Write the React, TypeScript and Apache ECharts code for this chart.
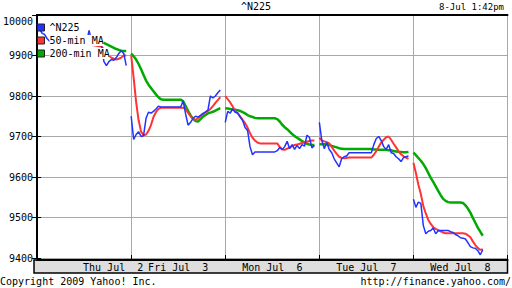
import React, { useEffect, useRef } from "react";
import * as echarts from "echarts";

const FONT = '"DejaVu Sans Mono", monospace';
const BLUE = "#2233ff";
const RED = "#ff3333";
const GREEN = "#00aa00";

// minutes per day slot on the axis, sampling step (minutes from 9:00)
const DAY_MIN = 380;
const STEP = 10;
const DAY_LABELS = ["Thu Jul  2", "Fri Jul  3", "Mon Jul  6", "Tue Jul  7", "Wed Jul  8"];
const Y_MIN = 9400;
const Y_MAX = 10000;
const Y_STEP = 100;

// ^N225, sampled every 10 minutes from 9:00
const n225Thu = [9978, 9965, 9955, 9952, 9942, 9936, 9934, 9938, 9932, 9935, 9930, 9936, 9933, 9933, 9933, 9933, 9933, 9933, 9933, 9933, 9933, 9962, 9935, 9930, 9928, 9932, 9925, 9885, 9875, 9885, 9890, 9888, 9895, 9905, 9912, 9905, 9875];
const n225Fri = [9750, 9693, 9705, 9712, 9700, 9702, 9745, 9760, 9758, 9762, 9768, 9775, 9773, 9773, 9773, 9773, 9773, 9773, 9773, 9773, 9773, 9788, 9755, 9728, 9735, 9745, 9750, 9748, 9752, 9757, 9760, 9765, 9800, 9795, 9800, 9808, 9815];
const n225Mon = [9735, 9762, 9758, 9768, 9760, 9758, 9748, 9740, 9722, 9715, 9675, 9655, 9662, 9662, 9662, 9662, 9662, 9662, 9662, 9662, 9662, 9665, 9673, 9668, 9675, 9688, 9670, 9680, 9668, 9678, 9670, 9680, 9676, 9703, 9698, 9672, 9678];
const n225Tue = [9735, 9690, 9670, 9685, 9668, 9660, 9645, 9635, 9625, 9645, 9650, 9652, 9660, 9660, 9660, 9660, 9660, 9660, 9660, 9660, 9660, 9660, 9680, 9695, 9700, 9690, 9675, 9668, 9680, 9660, 9658, 9650, 9645, 9638, 9648, 9650, 9652];
const n225Wed = [9545, 9525, 9538, 9535, 9480, 9460, 9466, 9468, 9474, 9460, 9467, 9468, 9468, 9468, 9468, 9465, 9463, 9458, 9455, 9450, 9449, 9447, 9438, 9428, 9425, 9424, 9418, 9408, 9420];

// 50-min moving average
const ma50Thu = [null, null, null, null, null, null, 9940, 9937, 9935, 9933, 9931, 9930, 9929, 9928, 9928, 9928, 9928, 9928, 9928, 9928, 9928, 9927, 9926, 9925, 9924, 9923, 9922, 9915, 9905, 9898, 9895, 9892, 9890, 9892, 9895, 9900, 9900];
const ma50Fri = [9900, 9845, 9785, 9740, 9712, 9703, 9705, 9714, 9728, 9748, 9760, 9768, 9771, 9771, 9771, 9771, 9771, 9771, 9771, 9771, 9771, 9771, 9768, 9758, 9750, 9744, 9741, 9745, 9750, 9755, 9760, 9763, 9768, 9775, 9783, 9790, 9797];
const ma50Mon = [9800, 9792, 9784, 9774, 9763, 9758, 9750, 9741, 9733, 9722, 9708, 9697, 9690, 9685, 9683, 9683, 9683, 9683, 9683, 9683, 9683, 9683, 9674, 9668, 9667, 9670, 9673, 9676, 9679, 9680, 9682, 9684, 9685, 9687, 9689, 9690, 9690];
const ma50Tue = [9697, 9690, 9688, 9686, 9683, 9674, 9665, 9657, 9650, 9647, 9646, 9647, 9648, 9648, 9648, 9648, 9648, 9648, 9648, 9648, 9648, 9648, 9655, 9664, 9675, 9685, 9692, 9698, 9700, 9692, 9682, 9673, 9664, 9656, 9651, 9648, 9645];
const ma50Wed = [9635, 9610, 9581, 9558, 9528, 9510, 9494, 9484, 9476, 9472, 9469, 9466, 9463, 9461, 9461, 9461, 9461, 9461, 9461, 9461, 9461, 9460, 9456, 9451, 9441, 9432, 9425, 9420, 9422];

// 200-min moving average
const ma200Thu = [null, null, null, null, null, null, 9945, 9944, 9943, 9942, 9941, 9940, 9939, 9938, 9938, 9938, 9938, 9938, 9938, 9938, 9938, 9937, 9936, 9935, 9934, 9933, 9932, 9931, 9928, 9925, 9922, 9919, 9916, 9914, 9912, 9911, 9911];
const ma200Fri = [9905, 9898, 9890, 9879, 9866, 9852, 9838, 9828, 9820, 9812, 9804, 9797, 9792, 9791, 9791, 9791, 9791, 9791, 9791, 9791, 9791, 9787, 9775, 9763, 9752, 9744, 9738, 9737, 9743, 9749, 9753, 9757, 9759, 9761, 9764, 9767, 9770];
const ma200Mon = [9770, 9769, 9768, 9767, 9766, 9765, 9763, 9760, 9757, 9753, 9750, 9748, 9746, 9745, 9745, 9745, 9745, 9745, 9745, 9745, 9745, 9743, 9737, 9729, 9723, 9718, 9712, 9706, 9701, 9697, 9693, 9689, 9685, 9682, 9680, 9679, 9679];
const ma200Tue = [9681, 9681, 9681, 9680, 9679, 9677, 9675, 9673, 9671, 9670, 9669, 9669, 9669, 9669, 9669, 9669, 9669, 9669, 9669, 9669, 9669, 9669, 9668, 9668, 9667, 9667, 9667, 9667, 9666, 9666, 9664, 9663, 9662, 9662, 9661, 9661, 9662];
const ma200Wed = [9660, 9654, 9647, 9640, 9632, 9622, 9610, 9598, 9588, 9577, 9566, 9555, 9546, 9541, 9538, 9537, 9537, 9537, 9537, 9537, 9536, 9530, 9522, 9512, 9499, 9487, 9475, 9465, 9455];

function build(days: (number | null)[][]) {
  const out: any[] = [];
  days.forEach((vals, d) => {
    vals.forEach((v, i) => out.push([d * DAY_MIN + i * STEP, v == null ? "-" : v]));
    out.push([d * DAY_MIN + DAY_MIN - 5, "-"]);
  });
  return out;
}

export default function App() {
  const ref = useRef<HTMLDivElement>(null);
  useEffect(() => {
    if (!ref.current) return;
    const chart = echarts.init(ref.current, null, { renderer: "svg" });
    const txt = { fontFamily: FONT, fontSize: 10, color: "#000", fontWeight: "normal" as const };
    const option: any = {
      animation: false,
      backgroundColor: "#fff",
      title: [
        { text: "^N225", left: "center", top: 0, padding: 0, textStyle: { ...txt, lineHeight: 12 } },
        { text: "8-Jul 1:42pm", right: 8, top: 1, padding: 0, textStyle: { ...txt, fontSize: 9, lineHeight: 12 } },
        { text: "Copyright 2009 Yahoo! Inc.", left: 0, top: 275, padding: 0, textStyle: { ...txt, lineHeight: 12 } },
        { text: "http://finance.yahoo.com/", right: 1, top: 275, padding: 0, textStyle: { ...txt, lineHeight: 12 } },
      ],
      legend: {
        data: ["^N225", "50-min MA", "200-min MA"],
        orient: "vertical",
        left: 37,
        top: 22,
        padding: 0,
        itemWidth: 7,
        itemHeight: 7,
        itemGap: 2,
        icon: "rect",
        selectedMode: false,
        itemStyle: { borderColor: "#222", borderWidth: 1 },
        textStyle: { ...txt, backgroundColor: "#fff", lineHeight: 11 },
      },
      grid: { left: 34, right: 4.5, top: 15, bottom: 30 },
      xAxis: [
        {
          type: "value",
          min: 0,
          max: DAY_MIN * 5,
          interval: DAY_MIN,
          position: "bottom",
          offset: 2,
          axisLine: { show: true, lineStyle: { color: "#000", width: 2 } },
          axisTick: { show: true, inside: true, length: 5, lineStyle: { color: "#000", width: 1 } },
          axisLabel: { show: false },
          splitLine: { show: true, lineStyle: { color: "#a8a8a8", width: 1 } },
        },
        {
          type: "value",
          min: 0,
          max: DAY_MIN * 5,
          interval: DAY_MIN / 2,
          position: "bottom",
          offset: 2,
          axisLine: { show: false },
          axisTick: { show: false },
          splitLine: { show: false },
          axisLabel: {
            show: true,
            interval: 0,
            margin: 1,
            ...txt,
            lineHeight: 12,
            formatter: (v: number) => {
              const k = Math.round(v / (DAY_MIN / 2));
              if (k % 2 !== 1) return "";
              const d = (k - 1) / 2;
              return d === 0 ? "{thu|" + DAY_LABELS[0] + "}" : DAY_LABELS[d];
            },
            rich: { thu: { ...txt, lineHeight: 12, padding: [0, 0, 0, 58] } },
          },
        },
        {
          type: "value",
          min: 0,
          max: DAY_MIN * 5,
          position: "top",
          axisLine: { show: true, lineStyle: { color: "#000", width: 2 } },
          axisTick: { show: false },
          axisLabel: { show: false },
          splitLine: { show: false },
        },
      ],
      yAxis: [
        {
          type: "value",
          min: Y_MIN,
          max: Y_MAX,
          interval: Y_STEP,
          position: "left",
          axisLine: { show: true, lineStyle: { color: "#000", width: 2 } },
          axisTick: { show: true, inside: true, length: 4, lineStyle: { color: "#000", width: 1 } },
          splitLine: { show: true, lineStyle: { color: "#a8a8a8", width: 1 } },
          axisLabel: {
            ...txt,
            margin: 4,
            formatter: (v: number) => (v === Y_MAX ? "{top|" + v + "}" : String(v)),
            rich: { top: { ...txt, padding: [13, 0, 0, 0] } },
          },
        },
        {
          type: "value",
          min: Y_MIN,
          max: Y_MAX,
          interval: Y_STEP,
          position: "right",
          axisLine: { show: true, lineStyle: { color: "#000", width: 2 } },
          axisTick: { show: true, inside: true, length: 5, lineStyle: { color: "#000", width: 1 } },
          splitLine: { show: false },
          axisLabel: { show: false },
        },
      ],
      graphic: [
        {
          type: "rect",
          z: -1,
          shape: { x: 34, y: 260, width: 473.5, height: 13 },
          style: { fill: "#dedede", stroke: "#000", lineWidth: 1.5 },
        },
      ],
      series: [
        {
          name: "200-min MA",
          type: "line",
          showSymbol: false,
          clip: false,
          data: build([ma200Thu, ma200Fri, ma200Mon, ma200Tue, ma200Wed]),
          lineStyle: { color: GREEN, width: 2.5 },
          itemStyle: { color: GREEN },
        },
        {
          name: "50-min MA",
          type: "line",
          showSymbol: false,
          clip: false,
          data: build([ma50Thu, ma50Fri, ma50Mon, ma50Tue, ma50Wed]),
          lineStyle: { color: RED, width: 2 },
          itemStyle: { color: RED },
        },
        {
          name: "^N225",
          type: "line",
          showSymbol: false,
          clip: false,
          data: build([n225Thu, n225Fri, n225Mon, n225Tue, n225Wed]),
          lineStyle: { color: BLUE, width: 1.5 },
          itemStyle: { color: BLUE },
        },
      ],
    };
    chart.setOption(option);
    return () => chart.dispose();
  }, []);
  return (
    <div
      ref={ref}
      style={{ position: "fixed", left: 0, top: 0, width: 512, height: 288, background: "#fff" }}
    />
  );
}
